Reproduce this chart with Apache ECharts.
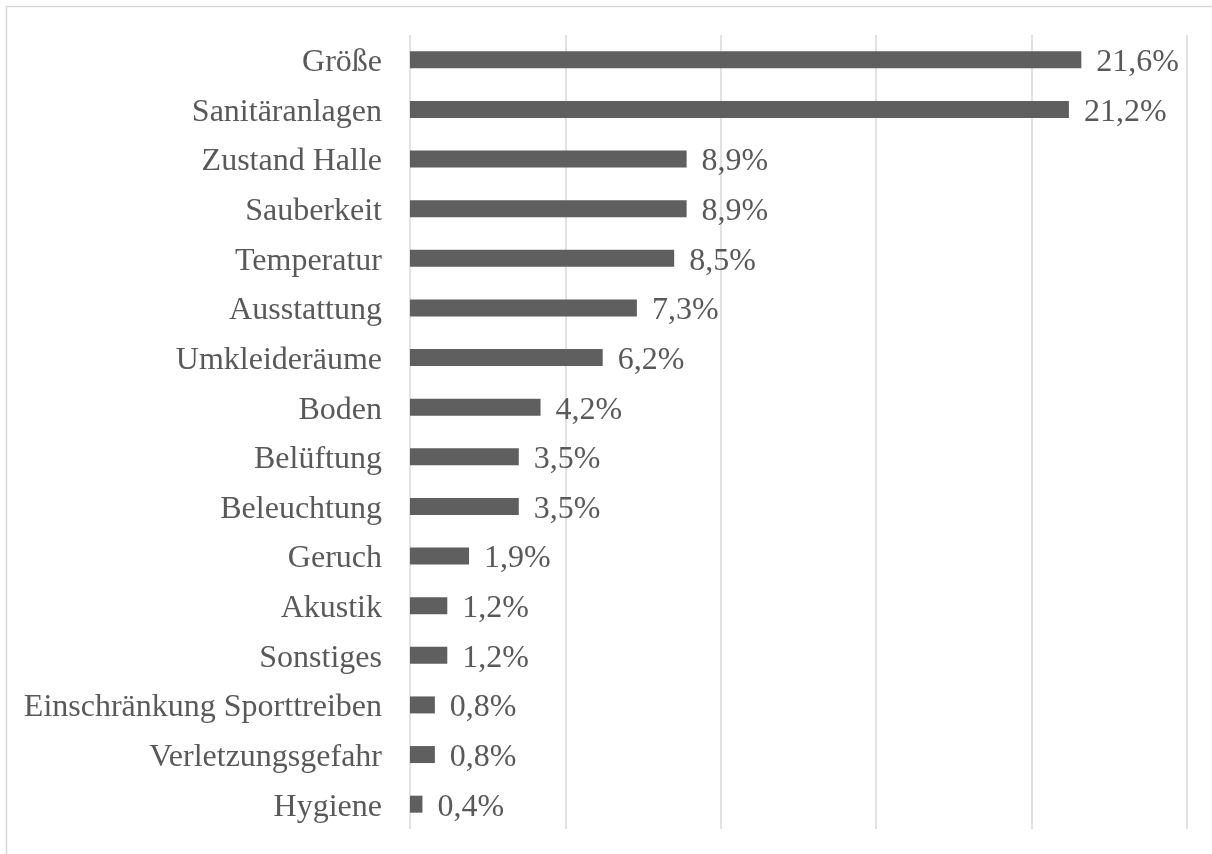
<!DOCTYPE html>
<html>
<head>
<meta charset="utf-8">
<script src="https://cdn.jsdelivr.net/npm/echarts@6/dist/echarts.min.js"></script>
<style>
  html, body { margin: 0; padding: 0; background: #ffffff; }
  #chart { width: 1212px; height: 854px; }
</style>
</head>
<body>
<div id="chart"></div>
<script>
// Categories listed top to bottom
const categories = [
  'Größe', 'Sanitäranlagen', 'Zustand Halle', 'Sauberkeit', 'Temperatur',
  'Ausstattung', 'Umkleideräume', 'Boden', 'Belüftung', 'Beleuchtung',
  'Geruch', 'Akustik', 'Sonstiges', 'Einschränkung Sporttreiben',
  'Verletzungsgefahr', 'Hygiene'
];
// Share of mentions in percent
const shares = [21.6, 21.2, 8.9, 8.9, 8.5, 7.3, 6.2, 4.2, 3.5, 3.5, 1.9, 1.2, 1.2, 0.8, 0.8, 0.4];

const textColor = '#595959';
const gridColor = '#d9d9d9';
const font = '"Liberation Serif", "Times New Roman", serif';

const chart = echarts.init(document.getElementById('chart'), null, { renderer: 'canvas' });
chart.setOption({
  backgroundColor: '#ffffff',
  animation: false,
  graphic: [{
    type: 'rect',
    shape: { x: 6.5, y: 6.5, width: 1300, height: 1000 },
    style: { fill: 'none', stroke: gridColor, lineWidth: 1.5 },
    silent: true,
    z: -10
  }],
  grid: { left: 410, right: 25, top: 35, bottom: 25, containLabel: false },
  xAxis: {
    type: 'value',
    min: 0,
    max: 25,
    interval: 5,
    axisLine: { show: false },
    axisTick: { show: false },
    axisLabel: { show: false },
    splitLine: { show: true, lineStyle: { color: gridColor, width: 1.5 } }
  },
  yAxis: {
    type: 'category',
    data: categories,
    inverse: true,
    axisLine: { show: false },
    axisTick: { show: false },
    splitLine: { show: false },
    axisLabel: {
      margin: 28,
      formatter: v => '{c|' + v + '}',
      rich: {
        c: {
          color: textColor,
          fontFamily: font,
          fontSize: 32,
          padding: [6, 0, 0, 0]
        }
      }
    }
  },
  series: [{
    type: 'bar',
    data: shares,
    barWidth: 17,
    itemStyle: { color: '#5f5f5f' },
    label: {
      show: true,
      position: 'right',
      distance: 15,
      offset: [0, 3],
      color: textColor,
      fontFamily: font,
      fontSize: 32,
      formatter: p => p.value.toFixed(1).replace('.', ',') + '%'
    }
  }]
});
</script>
</body>
</html>
